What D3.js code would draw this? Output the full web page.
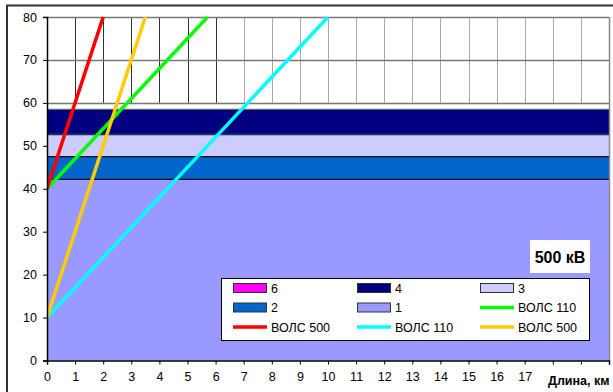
<!DOCTYPE html>
<html><head><meta charset="utf-8">
<script src="https://cdn.jsdelivr.net/npm/d3@7"></script>
<style>body{margin:0;background:#fff}svg{display:block;font-family:"Liberation Sans",Arial,sans-serif}</style>
</head><body>
<svg id="c" width="613" height="392"></svg>
<script>
// ---- data ----
const bandNames = ["1", "2", "3", "4", "6"];
const bandValues = [42.2, 5.3, 5.2, 5.8, 0];
const bandColors = ["#9999ff", "#0066cc", "#ccccff", "#000080", "#ff00ff"];
const lineNames = ["ВОЛС 110", "ВОЛС 500", "ВОЛС 110", "ВОЛС 500"];
const lineColors = ["#00ff00", "#ff0000", "#00ffff", "#ffcc00"];
const lineX = [[0, 5.714], [0, 2], [0, 10], [0, 3.5]];
const lineY = [[40, 80], [40, 80], [10, 80], [10, 80]];
const xTicks = d3.range(0, 21);
const xTickLabels = d3.range(0, 18).map(String);
const yTicks = [0, 10, 20, 30, 40, 50, 60, 70, 80];
const xTitle = "Длина, км";
const voltageLabel = "500 кВ";
const legendOrder = [
  {type: "band", i: 4}, {type: "band", i: 3}, {type: "band", i: 2},
  {type: "band", i: 1}, {type: "band", i: 0}, {type: "line", i: 0},
  {type: "line", i: 1}, {type: "line", i: 2}, {type: "line", i: 3}
];

// ---- chart ----
const svg = d3.select("#c");
const L = 47, R = 609, T = 17, B = 360.5;
const x = d3.scaleLinear().domain([0, 20]).range([L, R]);
const y = d3.scaleLinear().domain([0, 80]).range([B, T]);

// outer frame
svg.append("rect").attr("x", 7).attr("y", 5.5).attr("width", 640).attr("height", 420)
  .attr("fill", "#fff").attr("stroke", "#333").attr("stroke-width", 2);

// plot background
svg.append("rect").attr("x", L).attr("y", T).attr("width", R - L).attr("height", B - T).attr("fill", "#fff");

// gridlines
const g = svg.append("g");
g.selectAll("line.v").data(xTicks.filter(d => d > 0 && d < 20)).join("line")
  .attr("x1", d => Math.round(x(d)) + 0.5).attr("x2", d => Math.round(x(d)) + 0.5)
  .attr("y1", T).attr("y2", y(60))
  .attr("stroke", d => d <= 6 ? "#333" : "#aaa").attr("stroke-width", 1);
g.selectAll("line.h").data([60, 70, 80]).join("line")
  .attr("x1", L).attr("x2", R)
  .attr("y1", d => Math.round(y(d)) + 0.5).attr("y2", d => Math.round(y(d)) + 0.5)
  .attr("stroke", "#777").attr("stroke-width", 1.5);

// stacked bands
let cum = 0;
const bands = bandValues.map((v, i) => { const b = {i, y0: cum, y1: cum + v}; cum += v; return b; });
const bg = svg.append("g");
bands.filter(b => b.y1 > b.y0).forEach(b => {
  bg.append("rect").attr("x", L).attr("width", R - L)
    .attr("y", y(b.y1)).attr("height", y(b.y0) - y(b.y1))
    .attr("fill", bandColors[b.i]);
});
bands.filter(b => b.y1 > b.y0).forEach(b => {
  bg.append("line").attr("x1", L).attr("x2", R).attr("y1", y(b.y1)).attr("y2", y(b.y1))
    .attr("stroke", b.i === 3 ? "#666" : (b.i === 2 ? "#1a2a6a" : "#111"))
    .attr("stroke-width", b.i === 2 ? 2 : 1.2);
});

// lines (clipped to plot)
svg.append("clipPath").attr("id", "clip").append("rect")
  .attr("x", L).attr("y", T - 1).attr("width", R - L).attr("height", B - T + 1);
const lg = svg.append("g").attr("clip-path", "url(#clip)");
const lineGen = d3.line().x(d => x(d[0])).y(d => y(d[1]));
lineX.forEach((xs, k) => {
  const pts = xs.map((xv, j) => [xv, lineY[k][j]]);
  lg.append("path").attr("d", lineGen(pts)).attr("fill", "none")
    .attr("stroke", lineColors[k]).attr("stroke-width", 3.5);
});

// plot right border
svg.append("line").attr("x1", R + 0.5).attr("x2", R + 0.5).attr("y1", T).attr("y2", B)
  .attr("stroke", "#888").attr("stroke-width", 1.5);

// axes
const yAxis = d3.axisLeft(y).tickValues(yTicks).tickSize(4).tickPadding(6);
const ya = svg.append("g").attr("transform", `translate(${L},0)`).call(yAxis);
const xAxis = d3.axisBottom(x).tickValues(xTicks).tickSize(4).tickPadding(8)
  .tickFormat(d => d < xTickLabels.length ? xTickLabels[d] : "");
const xa = svg.append("g").attr("transform", `translate(0,${B})`).call(xAxis);
[ya, xa].forEach(a => {
  a.select(".domain").attr("stroke", "#000").attr("stroke-width", 1.5);
  a.selectAll(".tick line").attr("stroke", "#000");
  a.selectAll("text").attr("font-size", 12.5).attr("fill", "#000")
    .attr("font-family", "'Liberation Sans', Arial, sans-serif");
});
svg.append("text").attr("x", 548).attr("y", 385).attr("font-size", 12.5).attr("font-weight", "bold")
  .text(xTitle);

// voltage label
svg.append("rect").attr("x", 530).attr("y", 240).attr("width", 60).attr("height", 33).attr("fill", "#fff");
svg.append("text").attr("x", 560).attr("y", 263).attr("text-anchor", "middle")
  .attr("font-size", 16).attr("font-weight", "bold").text(voltageLabel);

// legend
svg.append("rect").attr("x", 221.5).attr("y", 278.5).attr("width", 368).attr("height", 62)
  .attr("fill", "#fff").attr("stroke", "#000").attr("stroke-width", 1);
const colX = [233, 357, 480], rowY = [288, 307.5, 327];
legendOrder.forEach((e, k) => {
  const cx = colX[k % 3], cy = rowY[Math.floor(k / 3)];
  if (e.type === "band") {
    svg.append("rect").attr("x", cx + 0.5).attr("y", cy - 4.5).attr("width", 33).attr("height", 9)
      .attr("fill", bandColors[e.i]).attr("stroke", "#333").attr("stroke-width", 1);
  } else {
    svg.append("line").attr("x1", cx).attr("x2", cx + 34).attr("y1", cy).attr("y2", cy)
      .attr("stroke", lineColors[e.i]).attr("stroke-width", 3.5);
  }
  svg.append("text").attr("x", cx + 38).attr("y", cy + 4.5).attr("font-size", 12.5)
    .text(e.type === "band" ? bandNames[e.i] : lineNames[e.i]);
});
</script>
</body></html>
